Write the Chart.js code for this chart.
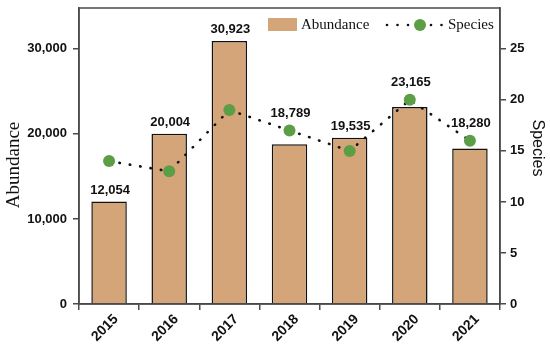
<!DOCTYPE html>
<html>
<head>
<meta charset="utf-8">
<script src="https://cdn.jsdelivr.net/npm/chart.js@4"></script>
<style>
  html, body { margin: 0; padding: 0; background: #fff; }
  #wrap { width: 550px; height: 352px; }
</style>
</head>
<body>
<div id="wrap"><canvas id="chart"></canvas></div>
<script>
const years = ['2015', '2016', '2017', '2018', '2019', '2020', '2021']
const abundance = [12054, 20004, 30923, 18789, 19535, 23165, 18280]
const species = [14, 13, 19, 17, 15, 20, 16]
const abundanceTicks = [0, 10000, 20000, 30000]
const speciesTicks = [0, 5, 10, 15, 20, 25]
const leftTitle = 'Abundance'
const rightTitle = 'Species'

const barColor = '#D5A57A'
const dotColor = '#5B9E45'
const axisColor = '#4a4a4a'
const sans = "'Liberation Sans', Arial, sans-serif"
const serif = "'Liberation Serif', 'Times New Roman', serif"

// values above bars, lifted over a species dot when it is in the way
const barLabels = {
    id: 'barLabels',
    afterDatasetsDraw(chart) {
        const ctx = chart.ctx
        const bars = chart.getDatasetMeta(0).data
        const dots = chart.getDatasetMeta(1).data
        ctx.save()
        ctx.font = 'bold 13px ' + sans
        ctx.fillStyle = '#111'
        ctx.textAlign = 'center'
        ctx.textBaseline = 'bottom'
        bars.forEach((bar, i) => {
            let y = bar.y - 5
            const d = dots[i].y
            if (d - 6 < bar.y + 4 && d + 6 > bar.y - 22) y = d - 11
            ctx.fillText(abundance[i].toLocaleString('en-US'), bar.x + 1, y)
        })
        ctx.restore()
    }
}

// box around the plot, axis titles, legend inside
const frameAndLegend = {
    id: 'frameAndLegend',
    afterDraw(chart) {
        const ctx = chart.ctx
        const a = chart.chartArea
        ctx.save()
        ctx.strokeStyle = axisColor
        ctx.lineWidth = 1.5
        ctx.strokeRect(a.left, a.top, a.right - a.left, a.bottom - a.top)

        ctx.fillStyle = '#111'
        ctx.textAlign = 'center'
        ctx.textBaseline = 'middle'
        ctx.save()
        ctx.translate(14, 165)
        ctx.rotate(-Math.PI / 2)
        ctx.font = '19px ' + serif
        ctx.fillText(leftTitle, 0, 0)
        ctx.restore()
        ctx.save()
        ctx.translate(537, 148)
        ctx.rotate(Math.PI / 2)
        ctx.font = '16px ' + sans
        ctx.fillText(rightTitle, 0, 0)
        ctx.restore()

        const ds = chart.data.datasets
        const cy = 25
        ctx.fillStyle = barColor
        ctx.fillRect(268, 18, 29, 13)
        ctx.font = '15px ' + serif
        ctx.fillStyle = '#111'
        ctx.textAlign = 'left'
        ctx.fillText(ds[0].label, 301, cy)
        ;[387, 397.5, 408, 431, 441.5].forEach(x => {
            ctx.beginPath()
            ctx.arc(x, cy, 1.3, 0, Math.PI * 2)
            ctx.fill()
        })
        ctx.fillStyle = dotColor
        ctx.beginPath()
        ctx.arc(420, cy, 6, 0, Math.PI * 2)
        ctx.fill()
        ctx.fillStyle = '#111'
        ctx.fillText(ds[1].label, 448, cy)
        ctx.restore()
    }
}

const keepTicks = list => scale => {
    scale.ticks = list.map(v => ({ value: v }))
}
const fitY = w => s => {
    s.width = w
    s.paddingTop = 0
    s.paddingBottom = 0
}

new Chart(document.getElementById('chart'), {
    data: {
        labels: years,
        datasets: [
            {
                type: 'bar',
                label: 'Abundance',
                data: abundance,
                backgroundColor: barColor,
                borderColor: '#111',
                borderWidth: 1.5,
                barPercentage: 0.59,
                categoryPercentage: 1,
                yAxisID: 'y',
                order: 2
            },
            {
                type: 'line',
                label: 'Species',
                data: species,
                borderColor: '#111',
                borderWidth: 2.6,
                borderDash: [0.5, 10],
                borderCapStyle: 'round',
                pointRadius: 6,
                pointBackgroundColor: dotColor,
                pointBorderWidth: 0,
                tension: 0,
                yAxisID: 'y1',
                order: 1
            }
        ]
    },
    options: {
        responsive: true,
        maintainAspectRatio: false,
        animation: false,
        layout: { padding: { top: 8, left: 0, right: 0, bottom: 0 } },
        plugins: {
            legend: { display: false },
            tooltip: { enabled: false }
        },
        scales: {
            x: {
                offset: true,
                grid: { drawOnChartArea: false, tickLength: 6, color: axisColor, lineWidth: 1.5 },
                border: { color: axisColor, width: 1.5 },
                ticks: { minRotation: 45, maxRotation: 45, padding: 1, labelOffset: 7, color: '#111', font: { family: sans, size: 14, weight: 'bold' } },
                afterFit: s => {
                    s.height = 48
                    s.paddingLeft = 0
                    s.paddingRight = 0
                }
            },
            y: {
                position: 'left',
                min: 0,
                max: 34800,
                afterBuildTicks: keepTicks(abundanceTicks),
                grid: { drawOnChartArea: false, tickLength: 6, color: axisColor, lineWidth: 1.5 },
                border: { color: axisColor, width: 1.5 },
                ticks: { padding: 6, color: '#111', font: { family: sans, size: 13, weight: 'bold' }, callback: v => v.toLocaleString('en-US') },
                afterFit: fitY(79)
            },
            y1: {
                position: 'right',
                min: 0,
                max: 29,
                afterBuildTicks: keepTicks(speciesTicks),
                grid: { drawOnChartArea: false, tickLength: 6, color: axisColor, lineWidth: 1.5 },
                border: { color: axisColor, width: 1.5 },
                ticks: { padding: 4, color: '#111', font: { family: sans, size: 13, weight: 'bold' } },
                afterFit: fitY(50)
            }
        }
    },
    plugins: [barLabels, frameAndLegend]
})
</script>
</body>
</html>
